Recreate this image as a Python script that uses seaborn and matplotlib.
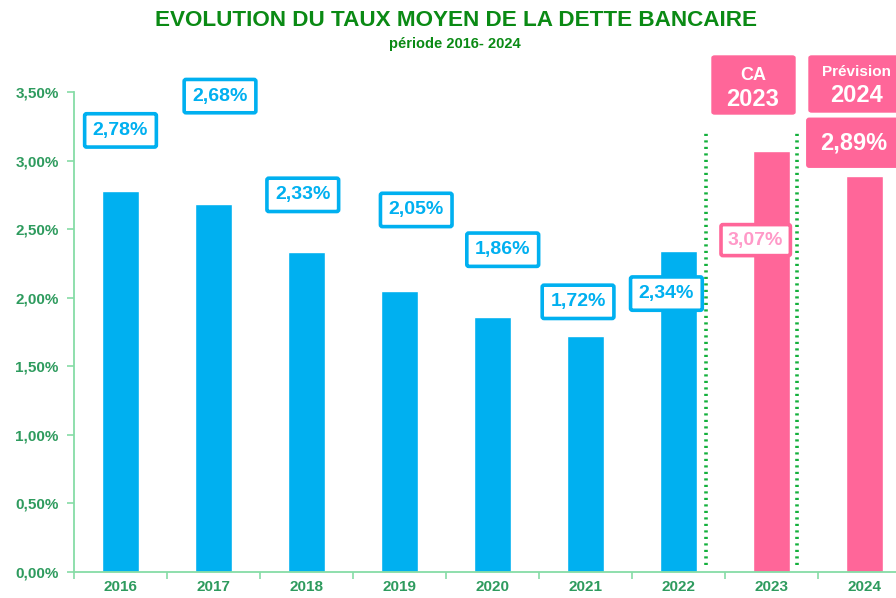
import matplotlib
matplotlib.use("Agg")
import matplotlib.pyplot as plt
import seaborn as sns
import pandas as pd
from matplotlib.patches import FancyBboxPatch
from matplotlib.ticker import FuncFormatter, MultipleLocator, FixedLocator

# ---- data ----
years = ["2016", "2017", "2018", "2019", "2020", "2021", "2022", "2023", "2024"]
rates = [2.78, 2.68, 2.33, 2.05, 1.86, 1.72, 2.34, 3.07, 2.89]
groups = ["réel"] * 7 + ["CA", "prévision"]
labels = ["2,78%", "2,68%", "2,33%", "2,05%", "1,86%", "1,72%", "2,34%", "3,07%", "2,89%"]

title = "EVOLUTION DU TAUX MOYEN DE LA DETTE BANCAIRE"
subtitle = "période 2016- 2024"

# label placement (styling)
lab_dx = [0.0, 1.07, 1.96, 3.18, 4.11, 4.92, 5.87, 6.83, 7.88]
lab_y = [3.22, 3.47, 2.75, 2.64, 2.35, 1.97, 2.03, 2.42, 3.13]

BLUE = "#00B0F0"
PINK = "#FF6699"
GREEN = "#0A8A14"
TICKGREEN = "#2E9B5E"
SPINE = "#86DCA6"

df = pd.DataFrame({"année": years, "taux": rates, "groupe": groups})

sns.set_style("white")
plt.rcParams["font.family"] = ["Liberation Sans", "DejaVu Sans"]

fig = plt.figure(figsize=(8.96, 5.98), dpi=100)
ax = fig.add_axes([74 / 896, 26 / 598, 837 / 896, 480 / 598])

sns.barplot(data=df, x="année", y="taux", hue="groupe",
            palette={"réel": BLUE, "CA": PINK, "prévision": PINK},
            dodge=False, width=0.4, legend=False, ax=ax, saturation=1)

ax.set_xlim(-0.5, 8.5)
ax.set_ylim(0, 3.5)
ax.set_xlabel("")
ax.set_ylabel("")
ax.yaxis.set_major_locator(MultipleLocator(0.5))
ax.yaxis.set_major_formatter(FuncFormatter(lambda v, p: f"{v:.2f}".replace(".", ",") + "%"))
for s in ["top", "right"]:
    ax.spines[s].set_visible(False)
for s in ["left", "bottom"]:
    ax.spines[s].set_color(SPINE)
    ax.spines[s].set_linewidth(1.3)
ax.tick_params(axis="y", length=5, color=SPINE, width=1.2, labelcolor=TICKGREEN,
               labelsize=11, pad=6, left=True)
ax.tick_params(axis="x", which="major", length=0, labelcolor=TICKGREEN, labelsize=11, pad=6)
ax.xaxis.set_minor_locator(FixedLocator([i - 0.5 for i in range(10)]))
ax.tick_params(axis="x", which="minor", length=5, color=SPINE, width=1.2, bottom=True)
for t in ax.get_xticklabels() + ax.get_yticklabels():
    t.set_fontweight("bold")

# value labels
for i, (lx, ly, lab) in enumerate(zip(lab_dx, lab_y, labels)):
    if i < 7:
        ax.text(lx, ly, lab, ha="center", va="center", color=BLUE, fontsize=14,
                fontweight="bold",
                bbox=dict(boxstyle="round,pad=0.42,rounding_size=0.1", fc="white",
                          ec=BLUE, lw=2.6))
    elif i == 7:
        ax.text(lx, ly, lab, ha="center", va="center", color="#FF99C8", fontsize=14,
                fontweight="bold",
                bbox=dict(boxstyle="round,pad=0.36,rounding_size=0.1", fc="white",
                          ec=PINK, lw=2.6))
    else:
        ax.text(lx, ly, lab, ha="center", va="center", color="white", fontsize=17,
                fontweight="bold",
                bbox=dict(boxstyle="round,pad=0.55,rounding_size=0.1", fc=PINK,
                          ec=PINK, lw=1))

# header boxes (figure pixel coords)
def px(x, y):
    return x / 896, 1 - y / 598

for (x0, y0, x1, y1) in [(712, 56, 795, 114), (809, 56, 900, 112)]:
    a = px(x0, y1)
    w = (x1 - x0) / 896
    h = (y1 - y0) / 598
    fig.patches.append(FancyBboxPatch(a, w, h, boxstyle="round,pad=0,rounding_size=0.003",
                                      transform=fig.transFigure, fc=PINK, ec=PINK))
fig.text(*px(753, 76), "CA", ha="center", va="center", color="white", fontsize=13, fontweight="bold")
fig.text(*px(753, 100), "2023", ha="center", va="center", color="white", fontsize=17, fontweight="bold")
fig.text(*px(856, 72), "Prévision", ha="center", va="center", color="white", fontsize=11, fontweight="bold")
fig.text(*px(856, 95), "2024", ha="center", va="center", color="white", fontsize=17, fontweight="bold")

# dotted separators
for xv in [6.30, 7.27]:
    ax.plot([xv, xv], [0.05, 3.2], color="#14B03C", lw=2.6, ls=(0, (0.6, 1.2)))

fig.text(*px(456, 20), title, ha="center", va="center", color=GREEN, fontsize=16.2, fontweight="bold")
fig.text(*px(455, 44), subtitle, ha="center", va="center", color=GREEN, fontsize=10.5, fontweight="bold")

fig.savefig("out.png", dpi=100)
